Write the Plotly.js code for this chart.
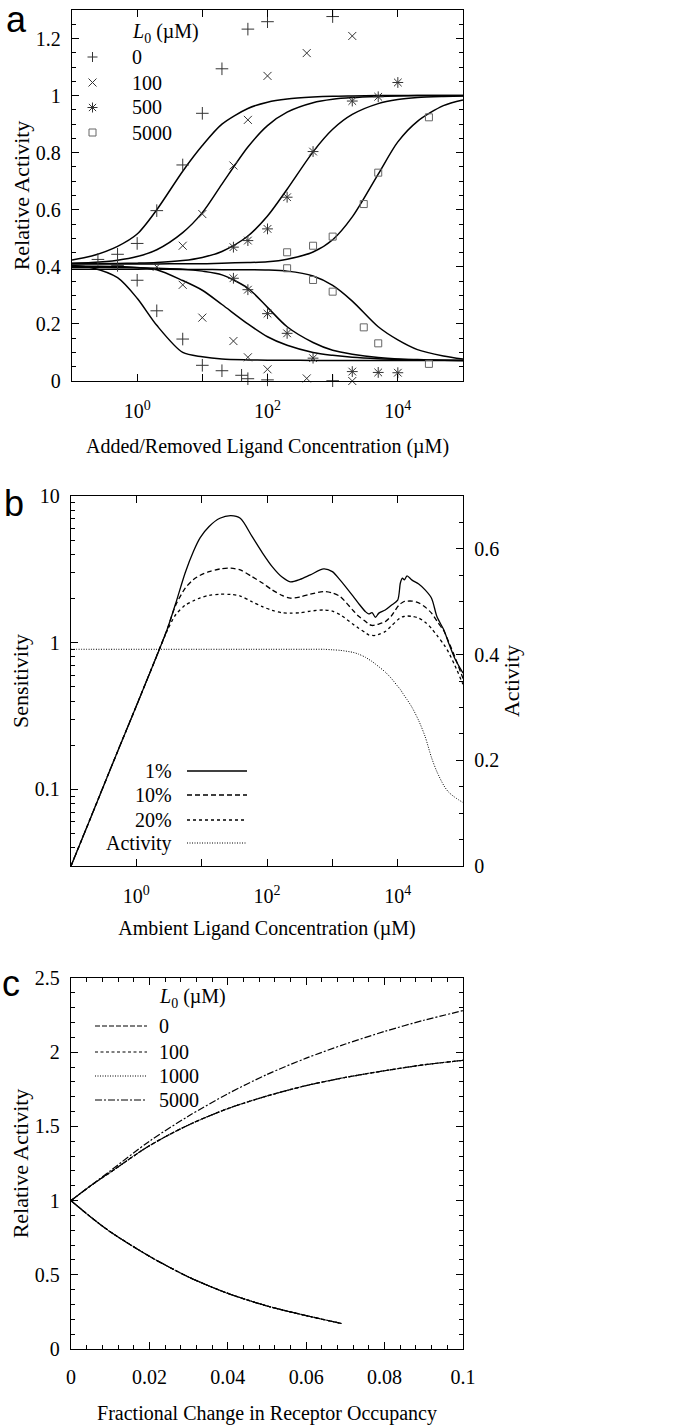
<!DOCTYPE html>
<html>
<head>
<meta charset="utf-8">
<script src="https://cdn.plot.ly/plotly-3.0.1.min.js"></script>
<style>html,body{margin:0;padding:0;background:#fff}#chart{width:673px;height:1428px}</style>
</head>
<body>
<div id="chart"></div>
<script>
// ---------------- Panel a data ----------------
const xa = [0.1,0.2,0.5,1,2,5,10,20,50,100,200,500,1000,2000,5000,1e4,2e4,5e4,1e5];
const riseL0_0    = [0.424,0.438,0.472,0.515,0.60,0.735,0.825,0.90,0.955,0.977,0.988,0.995,0.998,0.999,1.0,1.0,1.0,1.0,1.0];
const riseL0_100  = [0.413,0.415,0.423,0.436,0.46,0.52,0.59,0.69,0.82,0.895,0.942,0.975,0.987,0.993,0.997,0.999,1.0,1.0,1.0];
const riseL0_500  = [0.412,0.412,0.412,0.413,0.415,0.422,0.433,0.454,0.508,0.578,0.672,0.803,0.882,0.934,0.972,0.986,0.993,0.997,0.999];
const riseL0_5000 = [0.41,0.41,0.41,0.41,0.41,0.411,0.411,0.413,0.415,0.418,0.427,0.452,0.495,0.575,0.725,0.838,0.91,0.965,0.985];
const fallL0_0    = [0.405,0.397,0.362,0.29,0.195,0.10,0.085,0.077,0.074,0.073,0.073,0.072,0.072,0.072,0.072,0.072,0.072,0.072,0.072];
const fallL0_100  = [0.403,0.402,0.401,0.398,0.39,0.352,0.318,0.268,0.20,0.155,0.125,0.10,0.09,0.083,0.078,0.076,0.074,0.073,0.072];
const fallL0_500  = [0.399,0.399,0.398,0.397,0.395,0.392,0.385,0.372,0.325,0.258,0.19,0.135,0.108,0.094,0.082,0.077,0.075,0.073,0.072];
const fallL0_5000 = [0.392,0.392,0.392,0.392,0.392,0.391,0.391,0.39,0.39,0.389,0.385,0.368,0.335,0.28,0.19,0.144,0.11,0.088,0.077];

const ptsL0_0_x   = [0.25,0.5,1,2,5,10,20,50,100,1000, 0.5,1,2,5,10,20,40,50,100,1000];
const ptsL0_0_y   = [0.426,0.444,0.482,0.597,0.757,0.938,1.094,1.233,1.259,1.277, 0.405,0.353,0.246,0.147,0.055,0.036,0.02,0.008,0.004,0.001];
const ptsL0_100_x = [2,5,10,30,50,100,400,2000, 5,10,30,50,100,400,2000];
const ptsL0_100_y = [0.40,0.474,0.585,0.755,0.915,1.069,1.149,1.209, 0.337,0.222,0.14,0.083,0.041,0.009,0.0];
const ptsL0_500_x = [30,50,100,200,500,2000,5000,1e4, 30,50,100,200,500,2000,5000,1e4];
const ptsL0_500_y = [0.469,0.492,0.533,0.644,0.804,0.981,0.996,1.046, 0.36,0.32,0.236,0.167,0.08,0.033,0.03,0.029];
const ptsL0_5000_x = [200,500,1000,3000,5000,3e4, 200,500,1000,3000,5000,3e4];
const ptsL0_5000_y = [0.451,0.474,0.506,0.62,0.73,0.924, 0.395,0.354,0.313,0.188,0.132,0.06];
const legendA = ['0','100','500','5000'];

// ---------------- Panel b data ----------------
const xb = [0.1,0.2,0.5,1,2,3,4,5.6,7.5,9.5,13,19,28,39,59,85,120,170,228,320,460,738,1000,1320,2100,2500,3200,3600,4050,4570,5150,6450,8000,10000,11000,11800,12700,13900,16600,21000,26300,33000,40000,51000,60000,75000,100000];
const sens1  = [0.030,0.064,0.175,0.37,0.79,1.25,1.85,3.0,4.2,5.2,6.2,7.05,7.34,7.05,5.3,4.1,3.3,2.8,2.6,2.7,2.9,3.18,3.05,2.67,2.06,1.86,1.63,1.57,1.6,1.49,1.59,1.67,1.8,1.95,2.55,2.75,2.68,2.85,2.67,2.51,2.29,2.01,1.5,1.22,1.0,0.78,0.62];
const sens10 = [0.030,0.064,0.175,0.37,0.79,1.25,1.8,2.35,2.7,2.88,3.05,3.18,3.22,3.13,2.82,2.55,2.29,2.1,2.01,2.05,2.14,2.23,2.18,2.06,1.65,1.52,1.4,1.34,1.31,1.32,1.34,1.39,1.52,1.76,1.84,1.88,1.91,1.92,1.92,1.87,1.75,1.59,1.4,1.2,1.02,0.8,0.57];
const sens20 = [0.030,0.064,0.175,0.37,0.79,1.22,1.55,1.8,1.93,2.02,2.1,2.14,2.13,2.08,1.9,1.76,1.66,1.6,1.59,1.6,1.64,1.67,1.64,1.55,1.33,1.26,1.17,1.13,1.12,1.12,1.14,1.19,1.3,1.43,1.48,1.5,1.51,1.52,1.51,1.47,1.38,1.25,1.12,0.97,0.86,0.7,0.52];
const activity = [0.41,0.41,0.41,0.41,0.41,0.41,0.41,0.41,0.41,0.41,0.41,0.41,0.41,0.41,0.41,0.41,0.41,0.41,0.41,0.41,0.41,0.41,0.409,0.408,0.404,0.401,0.395,0.391,0.387,0.382,0.377,0.367,0.355,0.34,0.334,0.328,0.322,0.315,0.30,0.275,0.245,0.205,0.178,0.152,0.14,0.13,0.12];
const legendB = ['1%','10%','20%','Activity'];

// ---------------- Panel c data ----------------
const xcUp  = [0,0.005,0.01,0.02,0.03,0.04,0.05,0.06,0.07,0.08,0.09,0.1];
const upL0_0    = [1,1.10,1.19,1.37,1.51,1.62,1.705,1.775,1.83,1.875,1.915,1.945];
const upL0_100  = [1,1.10,1.19,1.37,1.51,1.62,1.705,1.775,1.83,1.875,1.915,1.945];
const upL0_1000 = [1,1.10,1.19,1.37,1.51,1.62,1.705,1.775,1.83,1.875,1.915,1.945];
const upL0_5000 = [1,1.10,1.20,1.40,1.57,1.72,1.85,1.96,2.055,2.14,2.215,2.28];
const xcDown = [0,0.005,0.01,0.02,0.03,0.04,0.05,0.06,0.069];
const downL0_0    = [1,0.89,0.79,0.625,0.485,0.375,0.29,0.225,0.172];
const downL0_100  = [1,0.89,0.79,0.625,0.485,0.375,0.29,0.225,0.172];
const downL0_1000 = [1,0.89,0.79,0.625,0.485,0.375,0.29,0.225,0.172];
const downL0_5000 = [1,0.89,0.79,0.625,0.485,0.375,0.29,0.225,0.172];
const legendC = ['0','100','1000','5000'];

// ---------------- helpers ----------------
const W = 673, H = 1428;
const px = v => v / W;
const py = v => 1 - v / H;
const SERIF = 'Liberation Serif, Times New Roman, serif';
const SANS = 'Liberation Sans, Arial, sans-serif';
const K = '#000';

function curve(x, y, xa_, ya_, dash, width) {
  return {x: x, y: y, mode: 'lines', xaxis: xa_, yaxis: ya_, showlegend: false, hoverinfo: 'skip',
          line: {color: K, width: width || 1.4, dash: dash || 'solid', shape: 'spline', smoothing: 0.8}};
}
function pts(x, y, symbol, size, color) {
  return {x: x, y: y, mode: 'markers', xaxis: 'x', yaxis: 'y', showlegend: false, hoverinfo: 'skip', cliponaxis: false,
          marker: {symbol: symbol, size: size, color: color, line: {width: 1, color: color}}};
}

const traces = [];
// panel a
[riseL0_0, riseL0_100, riseL0_500, riseL0_5000, fallL0_0, fallL0_100, fallL0_500, fallL0_5000]
  .forEach(y => traces.push(curve(xa, y, 'x', 'y', 'solid', 1.5)));
traces.push(pts(ptsL0_0_x, ptsL0_0_y, 'cross-thin-open', 9, '#333'));
traces.push(pts(ptsL0_100_x, ptsL0_100_y, 'x-thin-open', 8, '#333'));
traces.push(pts(ptsL0_500_x, ptsL0_500_y, 'asterisk-open', 9, '#333'));
traces.push(pts(ptsL0_5000_x, ptsL0_5000_y, 'square-open', 7, '#666'));
// panel b
const dashB = ['solid', '5px,3px', '3px,3px', '1px,1.5px'];
traces.push(curve(xb, sens1, 'x2', 'y2', dashB[0], 1.3));
traces.push(curve(xb, sens10, 'x2', 'y2', dashB[1], 1.3));
traces.push(curve(xb, sens20, 'x2', 'y2', dashB[2], 1.3));
traces.push(curve(xb, activity, 'x2', 'y4', dashB[3], 1.0));
// panel c
const dashC = ['5px,2px', '3px,2.5px', '1px,1.5px', '7px,2px,2px,2px'];
[upL0_0, upL0_100, upL0_1000, upL0_5000].forEach((y, i) => traces.push(curve(xcUp, y, 'x3', 'y3', dashC[i], 1.2)));
[downL0_0, downL0_100, downL0_1000, downL0_5000].forEach((y, i) => traces.push(curve(xcDown, y, 'x3', 'y3', dashC[i], 1.2)));

// ---------------- axes ----------------
const tickfont = {family: SERIF, size: 20, color: K};
const titleFont = {family: SERIF, size: 20, color: K};
const yTitleFont = {family: SERIF, size: 22, color: K};
function baseAxis(extra) {
  return Object.assign({showgrid: false, zeroline: false, showline: true, linecolor: K, linewidth: 1.3,
    ticks: 'inside', ticklen: 7, tickwidth: 1, tickcolor: K, tickfont: tickfont, mirror: 'ticks', fixedrange: true,
    automargin: false}, extra);
}
const supSpan = s => '<span style="font-size:14px;baseline-shift:8px">' + s + '</span>';
const subSpan = s => '<span style="font-size:14px;baseline-shift:-5px">' + s + '</span>';
const logTickVals = [1, 100, 1e4];
const logTickText = ['10' + supSpan('0'), '10' + supSpan('2'), '10' + supSpan('4')];
const logMinor = {tickmode: 'array', tickvals: [10, 1000], ticks: 'inside', ticklen: 7, tickcolor: K, tickwidth: 1};

const layout = {
  width: W, height: H, autosize: false,
  margin: {l: 0, r: 0, t: 0, b: 0, pad: 0},
  paper_bgcolor: '#fff', plot_bgcolor: 'rgba(0,0,0,0)',
  showlegend: false,
  font: {family: SERIF, size: 20, color: K},
  xaxis: baseAxis({domain: [px(72), px(463)], anchor: 'y', type: 'log', range: [-1, 5],
    tickmode: 'array', tickvals: logTickVals, ticktext: logTickText, ticklabelstandoff: 12, minor: logMinor,
    title: {text: 'Added/Removed Ligand Concentration (µM)', font: titleFont, standoff: 17}}),
  yaxis: baseAxis({domain: [py(381), py(10)], anchor: 'x', range: [0, 1.3],
    tickmode: 'linear', tick0: 0, dtick: 0.2, ticklabelstandoff: 6,
    minor: {tickmode: 'linear', tick0: 0, dtick: 0.05, ticks: 'inside', ticklen: 4, tickcolor: K, tickwidth: 1},
    title: {text: 'Relative Activity', font: yTitleFont, standoff: 0}}),
  xaxis2: baseAxis({domain: [px(71), px(463)], anchor: 'y2', type: 'log', range: [-1, 5],
    tickmode: 'array', tickvals: logTickVals, ticktext: logTickText, ticklabelstandoff: 12, minor: logMinor,
    title: {text: 'Ambient Ligand Concentration (µM)', font: titleFont, standoff: 14}}),
  yaxis2: baseAxis({domain: [py(866), py(496)], anchor: 'x2', type: 'log', range: [Math.log10(0.03), 1],
    mirror: false, tickmode: 'array', tickvals: [0.1, 1, 10], ticktext: ['0.1', '1', '10'], ticklabelstandoff: 6,
    minor: {tickmode: 'array', tickvals: [0.04,0.05,0.06,0.07,0.08,0.09,0.2,0.3,0.4,0.5,0.6,0.7,0.8,0.9,2,3,4,5,6,7,8,9],
            ticks: 'inside', ticklen: 4, tickcolor: K, tickwidth: 1},
    title: {text: 'Sensitivity', font: yTitleFont, standoff: 0}}),
  yaxis4: baseAxis({domain: [py(866), py(496)], anchor: 'x2', overlaying: 'y2', side: 'right', range: [0, 0.7],
    mirror: false, tickmode: 'linear', tick0: 0, dtick: 0.2, ticklabelstandoff: 6,
    minor: {tickmode: 'linear', tick0: 0, dtick: 0.05, ticks: 'inside', ticklen: 4, tickcolor: K, tickwidth: 1},
    title: {text: 'Activity', font: yTitleFont, standoff: 4}}),
  xaxis3: baseAxis({domain: [px(71), px(463)], anchor: 'y3', range: [0, 0.1],
    tickmode: 'linear', tick0: 0, dtick: 0.02, ticklabelstandoff: 10,
    minor: {tickmode: 'linear', tick0: 0, dtick: 0.004, ticks: 'inside', ticklen: 4, tickcolor: K, tickwidth: 1},
    title: {text: 'Fractional Change in Receptor Occupancy', font: titleFont, standoff: 18}}),
  yaxis3: baseAxis({domain: [py(1349), py(978)], anchor: 'x3', range: [0, 2.5],
    tickmode: 'linear', tick0: 0, dtick: 0.5, ticklabelstandoff: 6,
    minor: {tickmode: 'linear', tick0: 0, dtick: 0.1, ticks: 'inside', ticklen: 4, tickcolor: K, tickwidth: 1},
    title: {text: 'Relative Activity', font: yTitleFont, standoff: 0}}),
  annotations: [],
  shapes: []
};

function ann(text, x, y, opts) {
  layout.annotations.push(Object.assign({text: text, xref: 'paper', yref: 'paper', x: px(x), y: py(y),
    showarrow: false, xanchor: 'center', yanchor: 'middle', font: {family: SERIF, size: 20, color: K}}, opts || {}));
}
function seg(x0, x1, y, dash, width, color) {
  layout.shapes.push({type: 'line', xref: 'paper', yref: 'paper', x0: px(x0), x1: px(x1), y0: py(y), y1: py(y),
    line: {color: color || K, width: width || 1.2, dash: dash || 'solid'}});
}
function segXY(x0, y0, x1, y1, color) {
  layout.shapes.push({type: 'line', xref: 'paper', yref: 'paper', x0: px(x0), x1: px(x1), y0: py(y0), y1: py(y1),
    line: {color: color, width: 1}});
}

// panel letters
ann('a', 16, 20, {font: {family: SANS, size: 36, color: K}});
ann('b', 14, 503, {font: {family: SANS, size: 36, color: K}});
ann('c', 11, 983, {font: {family: SANS, size: 36, color: K}});

// legend a
const legendTitle = '<i>L</i>' + subSpan('0') + ' (µM)';
ann(legendTitle, 130, 33, {xanchor: 'left'});
const rowsA = [57, 82.5, 107.5, 132.5];
legendA.forEach((t, i) => ann(t, 130, rowsA[i], {xanchor: 'left'}));
const cxA = 92.5;
segXY(cxA - 5, rowsA[0], cxA + 5, rowsA[0], '#333'); segXY(cxA, rowsA[0] - 5, cxA, rowsA[0] + 5, '#333');
segXY(cxA - 4, rowsA[1] - 4, cxA + 4, rowsA[1] + 4, '#333'); segXY(cxA - 4, rowsA[1] + 4, cxA + 4, rowsA[1] - 4, '#333');
segXY(cxA - 5, rowsA[2], cxA + 5, rowsA[2], '#333'); segXY(cxA, rowsA[2] - 5, cxA, rowsA[2] + 5, '#333');
segXY(cxA - 3.6, rowsA[2] - 3.6, cxA + 3.6, rowsA[2] + 3.6, '#333'); segXY(cxA - 3.6, rowsA[2] + 3.6, cxA + 3.6, rowsA[2] - 3.6, '#333');
layout.shapes.push({type: 'rect', xref: 'paper', yref: 'paper', x0: px(cxA - 3.5), x1: px(cxA + 3.5), y0: py(rowsA[3] - 3.5), y1: py(rowsA[3] + 3.5),
  line: {color: '#666', width: 1}});

// legend b
const rowsB = [771, 795, 820, 843];
legendB.forEach((t, i) => { ann(t, 174, rowsB[i], {xanchor: 'right'}); seg(187, 247, rowsB[i], dashB[i], i === 3 ? 1 : 1.3); });

// legend c
ann(legendTitle, 157, 998, {xanchor: 'left'});
const rowsC = [1026, 1052, 1076, 1100];
legendC.forEach((t, i) => { ann(t, 157, rowsC[i], {xanchor: 'left'}); seg(95, 147, rowsC[i], dashC[i], 1.2); });

Plotly.newPlot('chart', traces, layout, {staticPlot: true, displayModeBar: false});
</script>
</body>
</html>
